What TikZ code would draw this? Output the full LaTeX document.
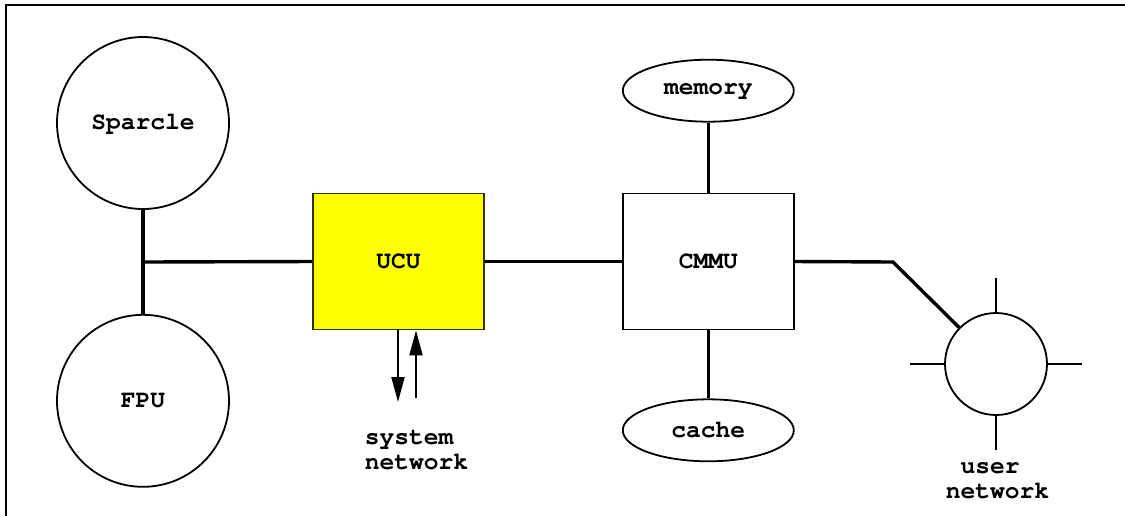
\documentclass[tikz,border=0pt]{standalone}
\usepackage{fontspec}
\usepackage{tikz}
\usetikzlibrary{arrows.meta, positioning, shapes}

\definecolor{ucuyellow}{RGB}{255,255,0}
\definecolor{ucuedge}{RGB}{51,51,0}

\newcommand{\labelfont}{\fontencoding{T1}\fontfamily{pcr}\fontseries{b}\fontsize{12.3}{12.5}\selectfont}

\begin{document}
\begin{tikzpicture}[
    x=0.5pt, y=-0.5pt,
    every node/.style={font=\labelfont},
    cpu/.style={circle, draw, line width=0.9pt, minimum size=86pt, inner sep=0pt},
    unit/.style={rectangle, draw, line width=0.9pt, minimum width=85.5pt, minimum height=68pt, inner sep=0pt},
    store/.style={ellipse, draw, line width=0.9pt, minimum width=85.5pt, minimum height=31pt, inner sep=0pt},
    bus/.style={line width=1.7pt},
    spoke/.style={line width=1pt},
    arrow/.style={line width=1pt, -{Triangle[length=12.5pt, width=6.5pt]}},
    caption/.style={align=left, inner sep=0pt}
]
\useasboundingbox (0,0) rectangle (1125,516);

% frame
\draw[line width=1.2pt] (1125,5) -- (6,5) -- (6,516);

% processor side
\node[cpu] (sparcle) at (143,123) {Sparcle};
\node[cpu, below=52pt of sparcle] (fpu) {FPU};
\coordinate (junction) at (143,262);

\node[unit, fill=ucuyellow, draw=ucuedge] (ucu) at (398.5,261.5) {UCU};
\node[unit, right=68.5pt of ucu] (cmmu) {CMMU};

\draw[bus] (sparcle) -- (fpu);
\draw[bus] (junction) -- (ucu.west);
\draw[bus] (ucu) -- (cmmu);

% memory side
\node[store, above=35pt of cmmu] (memory) {memory};
\node[store, below=34pt of cmmu] (cache) {cache};

\draw[bus] (memory) -- (cmmu);
\draw[bus] (cmmu) -- (cache);

% system network
\coordinate (sysout) at (398,402);
\coordinate (sysin) at (416,398);
\draw[arrow] (ucu.south -| sysout) -- (sysout);
\draw[arrow] (sysin) -- (sysin |- ucu.south);
\node[caption] (sysnet) at (416.5,450) {system\\network};

% user network
\node[cpu, minimum size=51pt] (unet) at (996,364) {};
\coordinate (bend) at (893,262);
\draw[bus] (cmmu.east) -- (bend) -- (unet);

\draw[spoke] (unet.north) -- ++(0,-34);
\draw[spoke] (unet.south) -- ++(0,34);
\draw[spoke] (unet.west) -- ++(-34,0);
\draw[spoke] (unet.east) -- ++(34,0);

\node[caption, align=center] (usernet) at (997.5,481) {user\hphantom{x}\\network};

\end{tikzpicture}
\end{document}
